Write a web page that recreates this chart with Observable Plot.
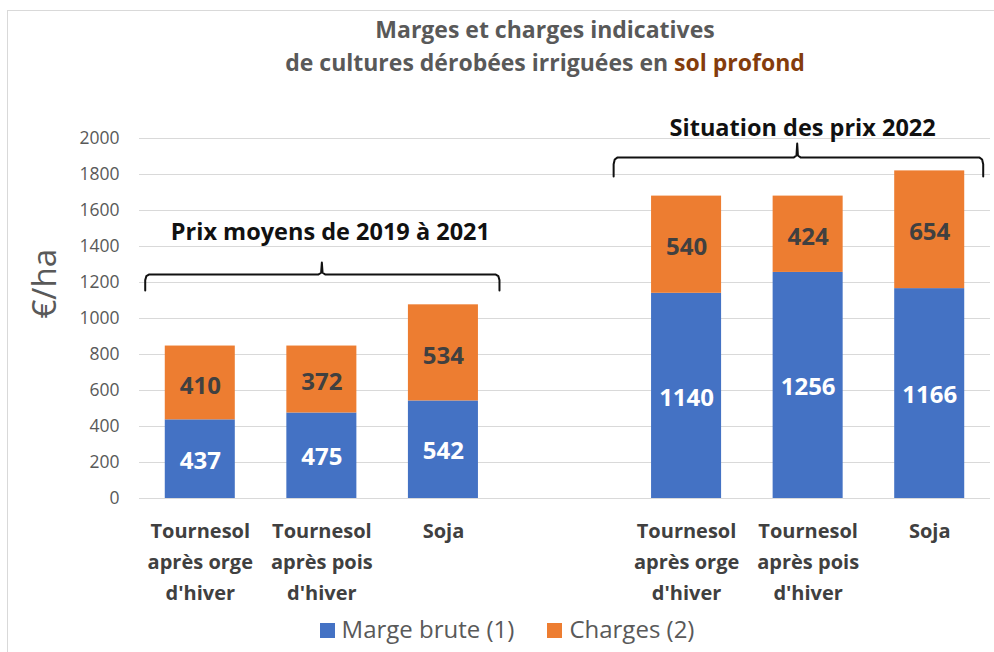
<!DOCTYPE html>
<html>
<head>
<meta charset="utf-8">
<script src="https://cdn.jsdelivr.net/npm/d3@7"></script>
<script src="https://cdn.jsdelivr.net/npm/@observablehq/plot@0.6"></script>
<style>
  body { margin: 0; background: #fff; font-family: "Open Sans", Lato, sans-serif; }
  #frame { position: absolute; left: 7px; top: 10px; width: 1200px; height: 800px;
           border-left: 1.5px solid #d9d9d9; border-top: 1.5px solid #d9d9d9; pointer-events: none; }
  #chart { position: relative; width: 994px; }
  .title { height: 80px; box-sizing: border-box; padding-top: 13px; padding-left: 96px;
           text-align: center; font-weight: bold; font-size: 23px; line-height: 33px; color: #595959; }
  .title .hl { color: #843c0c; }
  .legend { height: 36px; box-sizing: border-box; padding-left: 20px; display: flex; justify-content: center;
            align-items: center; gap: 33px; font-size: 24px; color: #595959; }
  .legend span.sw { display: inline-block; width: 15px; height: 15px; margin-right: 7px; vertical-align: 0px; }
  svg { display: block; }
</style>
</head>
<body>
<div id="frame"></div>
<div id="chart">
  <div class="title">Marges et charges indicatives<br>de cultures dérobées irriguées en <span class="hl">sol profond</span></div>
  <div id="plot"></div>
  <div class="legend" id="legend"></div>
</div>
<script>
// ---- data ----
const categories = [
  "Tournesol\naprès orge\nd'hiver", "Tournesol\naprès pois\nd'hiver", "Soja",
  "Tournesol\naprès orge\nd'hiver", "Tournesol\naprès pois\nd'hiver", "Soja"
];
const slots = [0, 1, 2, 4, 5, 6];            // position index (an empty slot separates the two periods)
const margeBrute = [437, 475, 542, 1140, 1256, 1166];
const chargesVals = [410, 372, 534, 540, 424, 654];
const yTicks = [0, 200, 400, 600, 800, 1000, 1200, 1400, 1600, 1800, 2000];
const seriesNames = ["Marge brute (1)", "Charges (2)"];
const seriesColors = ["#4472c4", "#ed7d31"];
const periodLabels = ["Prix moyens de 2019 à 2021", "Situation des prix 2022"];
// brace annotations in data units (x: slot index, y: €/ha)
const braceX1 = [-0.453, 3.40];
const braceX2 = [2.461, 6.44];
const braceXm = [1.0, 4.91];
const braceY = [1244, 1894];
const braceHook = [1156, 1789];
const bracePeak = [1311, 1972];
const braceLabelX = [1.07, 4.955];
const braceLabelY = [1478, 2055];

const rows = slots.map((s, i) => ({slot: s, cat: categories[i], marge: margeBrute[i], charges: chargesVals[i]}));

function bracePoints(k) {
  const x1 = braceX1[k], x2 = braceX2[k], xm = braceXm[k], y = braceY[k], yh = braceHook[k], yp = bracePeak[k];
  const c = 0.03, c2 = 0.02;
  const pts = [
    [x1, yh], [x1, y - (y - yh) * 0.35], [x1 + c * 0.3, y - (y - yh) * 0.1], [x1 + c, y],
    [xm - c, y], [xm - c2 * 0.3, y + (yp - y) * 0.15], [xm, yp],
    [xm + c2 * 0.3, y + (yp - y) * 0.15], [xm + c, y],
    [x2 - c, y], [x2 - c * 0.3, y - (y - yh) * 0.1], [x2, y - (y - yh) * 0.35], [x2, yh]
  ];
  return pts.map(([x, yy]) => ({x, y: yy, k}));
}
const braces = [0, 1].flatMap(bracePoints);
const braceLabels = periodLabels.map((t, k) => ({t, x: braceLabelX[k], y: braceLabelY[k]}));

const halfW = 0.288;
const font = "'Open Sans', Lato, sans-serif";

const chart = Plot.plot({
  width: 994,
  height: 530,
  marginLeft: 139,
  marginRight: 4,
  marginTop: 58,
  marginBottom: 112,
  x: {domain: [-0.5, 6.5], axis: null},
  y: {domain: [0, 2000], axis: null},
  style: {fontFamily: font, background: "transparent", overflow: "visible"},
  marks: [
    Plot.gridY(yTicks, {stroke: "#d9d9d9", strokeOpacity: 1, strokeWidth: 1.2}),
    Plot.axisY(yTicks, {tickSize: 0, tickPadding: 20, fontSize: 17.5, fill: "#595959", label: null, tickFormat: d => String(d)}),
    Plot.rect(rows, {x1: d => d.slot - halfW, x2: d => d.slot + halfW, y1: 0, y2: "marge", fill: seriesColors[0]}),
    Plot.rect(rows, {x1: d => d.slot - halfW, x2: d => d.slot + halfW, y1: "marge", y2: d => d.marge + d.charges, fill: seriesColors[1]}),
    Plot.text(rows, {x: "slot", y: d => d.marge / 2, dy: 2, text: d => String(d.marge), fill: "white", fontSize: 24, fontWeight: "bold"}),
    Plot.text(rows, {x: "slot", y: d => d.marge + d.charges / 2, dy: 3, text: d => String(d.charges), fill: "#404040", fontSize: 24, fontWeight: "bold"}),
    Plot.text(rows, {x: "slot", text: "cat", frameAnchor: "bottom", lineAnchor: "top", dy: 17, lineHeight: 1.55,
                     fontSize: 20, fontWeight: "bold", fill: "#404040"}),
    Plot.line(braces, {x: "x", y: "y", z: "k", stroke: "#111", strokeWidth: 2, curve: "linear"}),
    Plot.text(braceLabels, {x: "x", y: "y", text: "t", fontSize: 23.5, fontWeight: "bold", fill: "#111"}),
    Plot.text(["€/ha"], {frameAnchor: "left", rotate: -90, dx: -94, fontSize: 33, fill: "#595959"})
  ]
});
document.getElementById("plot").appendChild(chart);

const legend = document.getElementById("legend");
seriesNames.forEach((n, i) => {
  const item = document.createElement("div");
  item.innerHTML = `<span class="sw" style="background:${seriesColors[i]}"></span>${n}`;
  legend.appendChild(item);
});
</script>
</body>
</html>
